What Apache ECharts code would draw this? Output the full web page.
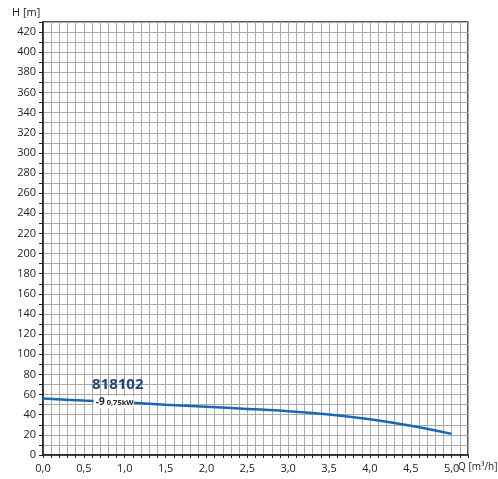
<!DOCTYPE html>
<html><head><meta charset="utf-8">
<script src="https://cdn.jsdelivr.net/npm/echarts@6/dist/echarts.min.js"></script>
<style>html,body{margin:0;padding:0;background:#fff}#c{width:498px;height:479px}</style>
</head><body><div id="c"></div>
<script>
var flowQ = [0, 0.5, 1.0, 1.5, 2.0, 2.5, 3.0, 3.5, 4.0, 4.5, 5.0];
var headH = [56, 54, 52.3, 50, 48, 45.8, 43.5, 40.3, 35.5, 29, 21];
var modelName = '818102';
var stageLabel = '-9';
var powerLabel = '0,75kW';
var xName = 'Q [m³/h]';
var yName = 'H [m]';

var chart = echarts.init(document.getElementById('c'));
var font = 'Open Sans';
chart.setOption({
  animation: false,
  grid: {left: 43, right: 30, top: 22, bottom: 24, show: true, borderColor: '#222', borderWidth: 1.5},
  xAxis: {
    type: 'value', min: 0, max: 5.2, interval: 0.1,
    axisLine: {lineStyle: {color: '#222', width: 1.5}},
    axisTick: {show: true, length: 3, lineStyle: {color: '#222'}},
    axisLabel: {interval: 0, color: '#222', fontFamily: font, fontSize: 11, margin: 8,
      formatter: function (v) {
        var t = Math.round(v * 10);
        if (t % 5 !== 0 || t > 50) return '';
        return (t / 10).toFixed(1).replace('.', ',');
      }},
    splitLine: {show: true, lineStyle: {color: '#aaa', width: 1}}
  },
  yAxis: {
    type: 'value', min: 0, max: 430, interval: 10,
    axisLine: {show: true, lineStyle: {color: '#222', width: 1.5}},
    axisTick: {show: true, length: 4, lineStyle: {color: '#222'}},
    axisLabel: {interval: 0, color: '#222', fontFamily: font, fontSize: 11, margin: 7,
      formatter: function (v) {
        var t = Math.round(v);
        return (t % 20 === 0) ? String(t) : '';
      }},
    splitLine: {show: true, lineStyle: {color: '#aaa', width: 1}}
  },
  series: [{
    type: 'line', smooth: 0.4, symbol: 'none',
    data: flowQ.map(function (q, i) { return [q, headH[i]]; }),
    lineStyle: {color: '#1a68b2', width: 2.5}
  }]
});

var pModel = chart.convertToPixel({gridIndex: 0}, [0.6, 70]);
var pLab = chart.convertToPixel({gridIndex: 0}, [0.62, 52.5]);
chart.setOption({
  graphic: [
    {type: 'text', left: 12, top: 7, style: {text: yName, fill: '#222', font: '11px "Open Sans"'}},
    {type: 'text', left: 458, top: 462, style: {text: xName, fill: '#222', font: '10px "Open Sans"'}},
    {type: 'text', x: pModel[0], y: pModel[1], style: {text: modelName, fill: '#1b4677', font: 'bold 15px "Open Sans"', textVerticalAlign: 'middle'}},
    {type: 'rect', x: pLab[0], y: pLab[1] - 6, shape: {width: 40, height: 12}, style: {fill: '#fff'}, z: 100},
    {type: 'text', x: pLab[0] + 2, y: pLab[1], z: 101, style: {text: stageLabel, fill: '#222', font: 'bold 10px "Open Sans"', textVerticalAlign: 'middle'}},
    {type: 'text', x: pLab[0] + 13, y: pLab[1] + 0.5, z: 101, style: {text: powerLabel, fill: '#222', font: 'bold 7.5px "Open Sans"', textVerticalAlign: 'middle'}}
  ]
});
</script></body></html>
